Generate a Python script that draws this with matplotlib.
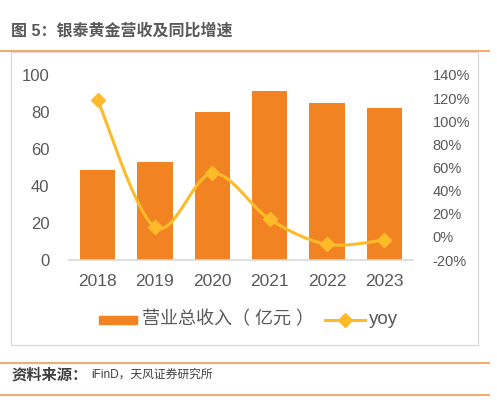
import matplotlib.pyplot as plt
import numpy as np
from matplotlib.patches import Rectangle
from matplotlib.lines import Line2D

plt.rcParams['font.family'] = ['Liberation Sans', 'Noto Sans CJK SC', 'DejaVu Sans']

years = ['2018', '2019', '2020', '2021', '2022', '2023']
revenue = [48.6, 52.8, 79.8, 91.2, 84.7, 82.2]
yoy = [118.4, 8.4, 55.0, 15.2, -6.4, -2.7]
left_ticks = [0, 20, 40, 60, 80, 100]
right_ticks = [-20, 0, 20, 40, 60, 80, 100, 120, 140]

BAR = '#F28322'
LINE = '#FDBB2A'
GRAY = '#595959'
ORANGE_RULE = '#F5A05A'

W, H = 497, 404
fig = plt.figure(figsize=(W / 100, H / 100), dpi=100)


def px(x0, y0, x1, y1):
    # pixel box (top-left origin) -> figure fraction
    return [x0 / W, 1 - y1 / H, (x1 - x0) / W, (y1 - y0) / H]


# title and rules
fig.text(11 / W, 1 - 31 / H, '图 5：银泰黄金营收及同比增速', fontsize=11.5, color=GRAY,
         fontweight='bold', va='center', ha='left')
fig.add_artist(Line2D([0, 489 / W], [1 - 51 / H] * 2, color=ORANGE_RULE, lw=1.3))
fig.add_artist(Rectangle((11 / W, 1 - 345 / H), (478 - 11) / W, (345 - 52) / H,
                         fill=False, ec='#D9D9D9', lw=0.9))

# main axes
ax = fig.add_axes(px(69, 75, 413, 260))
x = np.arange(len(years))
ax.bar(x, revenue, width=0.62, color=BAR, zorder=2)
ax.set_xlim(-0.5, len(years) - 0.5)
ax.set_ylim(0, 100)
ax.set_yticks(left_ticks)
ax.set_xticks(x)
ax.set_xticklabels(years, fontsize=12.5)
for s in ['top', 'right', 'left']:
    ax.spines[s].set_visible(False)
ax.spines['bottom'].set_color('#D9D9D9')
ax.spines['bottom'].set_linewidth(1.2)
ax.tick_params(axis='both', length=0, colors=GRAY)
ax.tick_params(axis='y', pad=14, labelsize=12)
ax.tick_params(axis='x', pad=10)

ax2 = ax.twinx()
ax2.set_ylim(-20, 140)
ax2.set_yticks(right_ticks)
ax2.set_yticklabels([f'{t}%' for t in right_ticks])
for s in ax2.spines.values():
    s.set_visible(False)
ax2.tick_params(axis='y', length=0, labelsize=10.5, colors=GRAY, pad=14)


# smooth curve through the yoy points (Catmull-Rom, rendering only)
def smooth(xs, ys, n=30):
    xs = np.asarray(xs, float)
    ys = np.asarray(ys, float)
    P = np.column_stack([xs, ys])
    P = np.vstack([P[0], P, P[-1]])
    out = []
    for i in range(1, len(P) - 2):
        p0, p1, p2, p3 = P[i - 1], P[i], P[i + 1], P[i + 2]
        t = np.linspace(0, 1, n)[:, None]
        seg = 0.5 * ((2 * p1) + (-p0 + p2) * t + (2 * p0 - 5 * p1 + 4 * p2 - p3) * t ** 2
                     + (-p0 + 3 * p1 - 3 * p2 + p3) * t ** 3)
        out.append(seg)
    out = np.vstack(out)
    return out[:, 0], out[:, 1]


sx, sy = smooth(x, yoy)
ax2.plot(sx, sy, color=LINE, lw=2.2, zorder=3, solid_capstyle='round')
ax2.plot(x, yoy, ls='none', marker='D', ms=7, color=LINE, zorder=4)

# legend
fig.add_artist(Rectangle((99 / W, 1 - 324 / H), 38 / W, 8 / H, color=BAR))
fig.text(142 / W, 1 - 320 / H, '营业总收入（ 亿元 ）', fontsize=13, color=GRAY,
         va='center', ha='left')
fig.add_artist(Line2D([325 / W, 365 / W], [1 - 320 / H] * 2, color=LINE, lw=2.2))
fig.add_artist(Line2D([345 / W], [1 - 320 / H], marker='D', ms=7, color=LINE, ls='none'))
fig.text(369 / W, 1 - 320 / H, 'yoy', fontsize=13.5, color=GRAY, va='center', ha='left')

# source footer
fig.add_artist(Line2D([0, 489 / W], [1 - 363 / H] * 2, color=ORANGE_RULE, lw=1.3))
fig.text(11 / W, 1 - 375 / H, '资料来源：', fontsize=11, color='#404040',
         fontweight='bold', va='center', ha='left')
fig.text(91 / W, 1 - 375 / H, 'iFinD，天风证券研究所', fontsize=8.5, color='#404040',
         va='center', ha='left')
fig.add_artist(Line2D([0, 489 / W], [1 - 395 / H] * 2, color=ORANGE_RULE, lw=1.3))

fig.savefig('out.png', dpi=100)
